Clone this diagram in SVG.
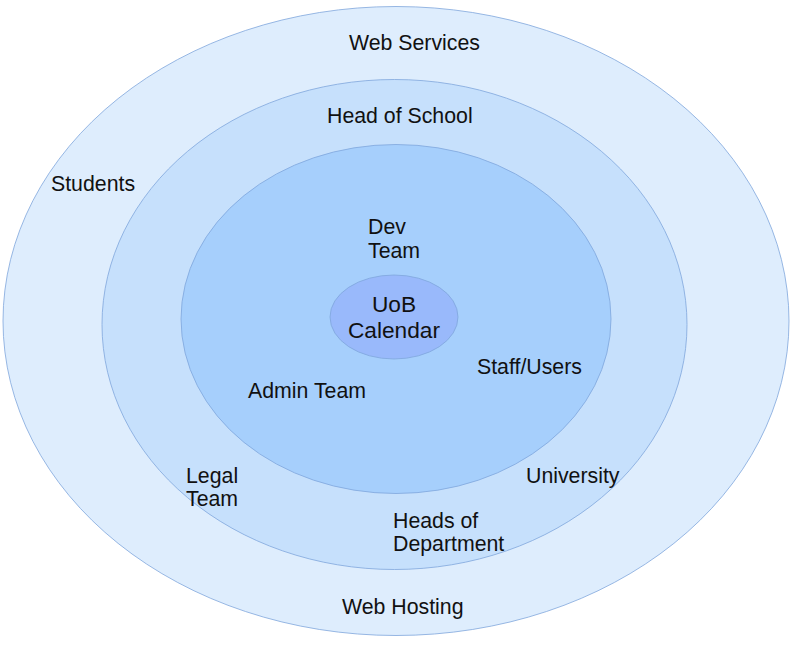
<svg xmlns="http://www.w3.org/2000/svg" width="795" height="645" viewBox="0 0 795 645">
<style>
text{font-family:"Liberation Sans",Arial,sans-serif;font-size:21.3px;fill:#111}
.ring{stroke:#7fa6dc;stroke-width:0.8}
.big{font-size:22.7px}
</style>
<rect width="795" height="645" fill="#ffffff"/>
<g id="web-services-ring">
<ellipse class="ring" cx="396" cy="321" rx="393" ry="314.5" fill="#deedfd"/>
<text x="349" y="50">Web Services</text>
<text x="51" y="191">Students</text>
<text x="342" y="614">Web Hosting</text>
</g>
<g id="head-of-school-ring">
<ellipse class="ring" cx="394.5" cy="324.5" rx="292.5" ry="245" fill="#c6e0fc"/>
<text x="327" y="123">Head of School</text>
<text x="186" y="483">Legal</text>
<text x="186" y="506">Team</text>
<text x="526" y="483">University</text>
<text x="393" y="528">Heads of</text>
<text x="393" y="551">Department</text>
</g>
<g id="dev-team-ring">
<ellipse class="ring" cx="396" cy="319" rx="215" ry="174.5" fill="#a6cffc"/>
<text x="368" y="234">Dev</text>
<text x="368" y="258">Team</text>
<text x="477" y="374">Staff/Users</text>
<text x="248" y="398">Admin Team</text>
</g>
<g id="uob-calendar">
<ellipse class="ring" cx="394" cy="317" rx="64" ry="42" fill="#99b9fb"/>
<text class="big" x="394" y="312" text-anchor="middle">UoB</text>
<text class="big" x="394" y="338" text-anchor="middle">Calendar</text>
</g>
<g id="connectors"></g>
</svg>
